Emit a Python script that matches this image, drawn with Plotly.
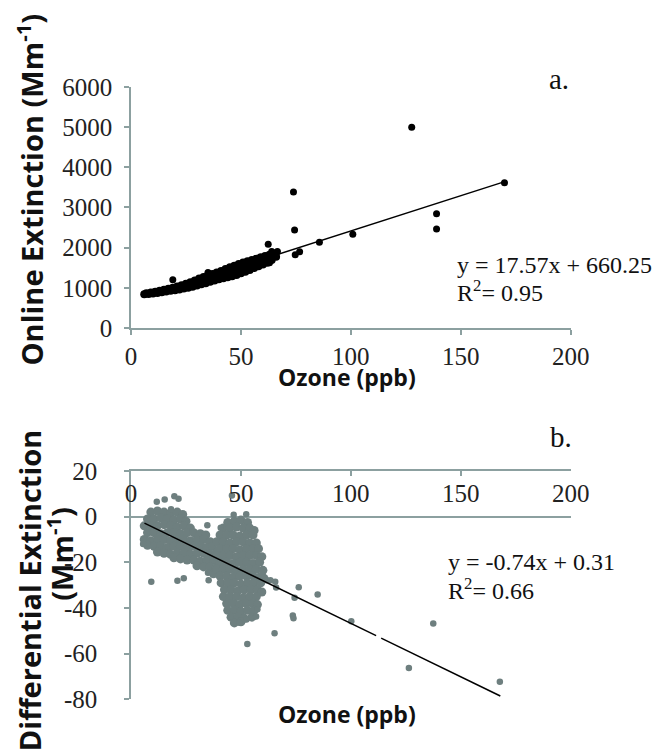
import plotly.graph_objects as go

# ---------------- Panel a: Online extinction vs ozone ----------------
online_x = [
    # lower edge of the dense band
    6, 8, 10, 12, 14, 16, 18, 20, 22, 24, 26, 28, 30, 32, 34, 36, 38, 40, 42, 44, 46, 48, 50, 52, 54,
    56, 58, 60, 62, 64, 66,
    # upper edge of the dense band
    7, 9, 11, 13, 15, 17, 19, 21, 23, 25, 27, 29, 31, 33, 35, 37, 39, 41, 43, 45, 47, 49, 51, 53, 55,
    57, 59, 61, 63, 65,
    # middle of the band
    28, 30, 32, 34, 36, 38, 40, 42, 44, 45, 46, 47, 48, 49, 50, 51, 52, 53, 54, 55, 56, 57, 58, 59, 60,
    62, 64]
online_y = [
    840, 845, 855, 870, 890, 905, 925, 940, 960, 980, 1000, 1025, 1055, 1090, 1115, 1150, 1180, 1215, 1240,
    1260, 1285, 1320, 1360, 1400, 1445, 1490, 1535, 1580, 1620, 1690, 1770,
    865, 880, 900, 925, 950, 975, 1000, 1030, 1065, 1100, 1140, 1180, 1230, 1270, 1310, 1340, 1380, 1420,
    1470, 1510, 1550, 1590, 1630, 1660, 1690, 1720, 1760, 1790, 1820, 1850,
    1100, 1140, 1170, 1200, 1240, 1280, 1310, 1350, 1380, 1430, 1400, 1460, 1440, 1500, 1470, 1530, 1510,
    1560, 1550, 1600, 1600, 1640, 1640, 1680, 1680, 1720, 1760]
online_out_x = [19, 35, 62.4, 63, 64, 66.6,
                73.9, 74.4, 74.7, 76.7, 85.7, 100.9, 127.7, 139, 139, 169.9]
online_out_y = [1200, 1380, 2080, 1620, 1900, 1900,
                3381, 2439, 1823, 1895, 2134, 2330, 4993, 2840, 2464, 3612]
trend_a_x = [6, 170]
trend_a_y = [766, 3640]

# ---------------- Panel b: Differential extinction vs ozone ----------------
diff_cloud_x = [
    9, 12, 15, 18, 21, 23.5,
    7.5, 10.5, 13.5, 16.5, 19.5, 22.5, 25,
    6, 9, 12, 15, 18, 21, 24, 27,
    7.5, 10.5, 13.5, 16.5, 19.5, 22.5, 25.5, 28.5, 31.5, 34,
    6, 9, 12, 15, 18, 21, 24, 27, 30, 33, 36,
    7.5, 10.5, 13.5, 16.5, 19.5, 22.5, 25.5, 28.5, 31.5, 34.5, 37,
    12, 15, 18, 21, 24, 27, 30, 33, 36, 38.5,
    19.5, 22.5, 25.5, 28.5, 31.5, 34.5, 37.5,
    30, 33, 36, 38.5,
    37.5,
    44, 47, 50, 53,
    42, 45, 48, 51, 54, 56,
    40.5, 43.5, 46.5, 49.5, 52.5, 55.5,
    39, 42, 45, 48, 51, 54, 57,
    40.5, 43.5, 46.5, 49.5, 52.5, 55.5, 58,
    39, 42, 45, 48, 51, 54, 57, 59.5,
    40.5, 43.5, 46.5, 49.5, 52.5, 55.5, 58.5,
    39, 42, 45, 48, 51, 54, 57, 60,
    40.5, 43.5, 46.5, 49.5, 52.5, 55.5, 58.5, 60.5,
    41, 44, 47, 50, 53, 56, 59,
    42.5, 45.5, 48.5, 51.5, 54.5, 57.5, 59.5,
    42, 45, 48, 51, 54, 57,
    43.5, 46.5, 49.5, 52.5, 55.5, 57.5,
    44, 47, 50, 53, 56,
    45.5, 48.5, 51.5, 55,
    47, 50]
diff_cloud_y = [
    2, 2.5, 2, 1.5, 2, 1,
    -1, -1, -0.5, -1, -1.5, -1, -2,
    -4, -4, -4, -3.5, -4, -4.5, -4, -5,
    -7, -7, -7.5, -7, -7, -7.5, -7, -7, -7.5, -8,
    -10, -10.5, -10, -10, -10.5, -10, -10, -10.5, -10, -10, -11,
    -12.5, -13, -13, -13.5, -13, -13, -13.5, -13, -13, -13.5, -13,
    -15.5, -16, -16.5, -16, -16, -16.5, -16, -16, -16.5, -16,
    -18, -18.5, -19, -19, -19.5, -19, -19,
    -21.5, -22, -22, -22.5,
    -25,
    -2.5, -2, -1.5, -2.5,
    -5, -5, -4.5, -5, -5, -6,
    -8, -8, -8, -8.5, -8, -8,
    -11, -11, -11.5, -11, -11, -11.5, -11.5,
    -14, -14, -14, -14.5, -14, -14, -14,
    -17, -17, -17, -17.5, -17, -17, -17, -17.5,
    -20, -20, -20.5, -20, -20, -20.5, -20,
    -23, -23, -23, -23.5, -23, -23, -23, -23.5,
    -26, -26, -26.5, -26, -26, -26, -26.5, -27,
    -29, -29, -29, -29.5, -29, -29, -29,
    -32, -32, -32.5, -32, -32, -32, -33,
    -35, -35, -35, -35.5, -35, -35,
    -38, -38, -38.5, -38, -38, -38.5,
    -41, -41, -41.5, -41, -41,
    -44, -44, -44.5, -44,
    -46.5, -46]
diff_out_x = [9.2, 21.1, 24, 35, 35.3, 34.7, 40.8, 46.7, 52.4, 45.9, 15.3, 11.7, 19.7, 21.6, 18.2,
              61.7, 63.4, 65.6, 66, 76.3, 84.9, 74.4, 73.6, 73.9, 65.3, 52.9, 56.9, 52.5, 49.3,
              100.2, 137.5, 126.4, 167.8, 5.5, 57.5]
diff_out_y = [-28.5, -28, -27, -24.5, -27.8, -3.8, -4.8, 0.8, 1.1, 9.3, 7.5, 6.5, 8.9, 7.9, 3.3,
              -27.8, -27.8, -28.5, -31, -30.9, -34.1, -35.5, -43.3, -44.5, -51, -55.7, -43.7, -45, -46.4,
              -45.8, -46.8, -66.2, -72.3, -12, -40.5]
trend_b_x = [6.1, 111.5, None, 113.8, 168.0]
trend_b_y = [-2.8, -52.1, None, -53.2, -78.5]

x_ticks = [0, 50, 100, 150, 200]
online_ticks = [0, 1000, 2000, 3000, 4000, 5000, 6000]
diff_ticks = [20, 0, -20, -40, -60, -80]
diff_tick_labels = ["20", "0", "-20", "-40", "-60", "-80"]

# ---------------- figure ----------------
W, H = 656, 754
AX = "rgb(140,160,160)"
SERIF = "Liberation Serif"
SANS = "Open Sans"
GRAY = "rgb(110,127,127)"

fig = go.Figure()
fig.add_trace(go.Scatter(x=online_x, y=online_y, mode="markers",
                         marker=dict(color="black", size=8), xaxis="x", yaxis="y", showlegend=False))
fig.add_trace(go.Scatter(x=online_out_x, y=online_out_y, mode="markers",
                         marker=dict(color="black", size=7), xaxis="x", yaxis="y", showlegend=False))
fig.add_trace(go.Scatter(x=trend_a_x, y=trend_a_y, mode="lines",
                         line=dict(color="black", width=1.5), xaxis="x", yaxis="y", showlegend=False))
fig.add_trace(go.Scatter(x=diff_cloud_x, y=diff_cloud_y, mode="markers",
                         marker=dict(color=GRAY, size=9), xaxis="x2", yaxis="y2", showlegend=False))
fig.add_trace(go.Scatter(x=diff_out_x, y=diff_out_y, mode="markers",
                         marker=dict(color=GRAY, size=6.5), xaxis="x2", yaxis="y2", showlegend=False))
fig.add_trace(go.Scatter(x=trend_b_x, y=trend_b_y, mode="lines", connectgaps=False,
                         line=dict(color="black", width=1.5), xaxis="x2", yaxis="y2", showlegend=False))

xdom = [130 / W, 587 / W]
TF = dict(family=SERIF, size=25, color="#222")


def axstyle(**kw):
    d = dict(showline=True, linecolor=AX, linewidth=1.5, tickcolor=AX, tickwidth=1.5,
             ticklen=5, showgrid=False, zeroline=False, tickfont=dict(TF))
    d.update(kw)
    return d


fig.update_layout(
    width=W, height=H, margin=dict(l=0, r=0, t=0, b=0),
    paper_bgcolor="white", plot_bgcolor="white",
    font=dict(family=SERIF, size=25, color="#222"),
    xaxis=axstyle(domain=xdom, range=[0, 200], tickvals=x_ticks, anchor="y", ticks="outside"),
    yaxis=axstyle(domain=[1 - 326.7 / H, 1 - 76.5 / H], range=[0, 6000], tickvals=online_ticks,
                  anchor="x", ticks="outside", ticklabelstandoff=7),
    xaxis2=axstyle(domain=xdom, range=[0, 200], tickvals=x_ticks, anchor="y2", side="top",
                   ticks="inside", showticklabels=False),
    xaxis3=axstyle(domain=xdom, range=[0, 200], tickvals=x_ticks, overlaying="x2", anchor="free",
                   position=1 - 480 / H, side="bottom", ticks="", showline=False),
    yaxis2=axstyle(domain=[1 - 711.9 / H, 1 - 475 / H], range=[-80, 20], tickvals=diff_ticks,
                   ticktext=diff_tick_labels, anchor="x2", ticks="outside", ticklabelstandoff=22,
                   zeroline=True, zerolinecolor=AX, zerolinewidth=1.5),
)
# invisible trace so that the label axis (x3) is drawn
fig.add_trace(go.Scatter(x=[None], y=[None], xaxis="x3", yaxis="y2", showlegend=False,
                         hoverinfo="skip"))


def px(xp, yp):
    return xp / W, 1 - yp / H


anns = []


def ann(text, xp, yp, size, family, xanchor="left", yanchor="middle", angle=0):
    x, y = px(xp, yp)
    anns.append(dict(text=text, x=x, y=y, xref="paper", yref="paper", showarrow=False,
                     xanchor=xanchor, yanchor=yanchor, textangle=angle,
                     font=dict(family=family, size=size, color="#111")))


ann("a.", 562, 68, 29, SERIF)
ann("b.", 563, 440, 29, SERIF)
ann("y = 17.57x + 660.25", 467, 261, 24, SERIF)
ann("R<sup>2</sup>= 0.95", 467, 288, 24, SERIF)
ann("y = -0.74x + 0.31", 457, 569, 24, SERIF)
ann("R<sup>2</sup>= 0.66", 457, 597, 24, SERIF)
ann("<b>Online Extinction (Mm<sup>-1</sup>)</b>", 25, 183, 29, SANS, "center", "middle", -90)
ann("<b>Ozone (ppb)</b>", 355, 378, 23, SANS, "center", "middle")
ann("<b>Ozone (ppb)</b>", 354, 727, 23, SANS, "center", "middle")
ann("<b>Differential Extinction</b>", 24, 431, 29, SANS, "center", "top", -90)
ann("<b>(Mm<sup>-1</sup>)</b>", 56, 561, 29, SANS, "center", "middle", -90)
fig.update_layout(annotations=anns)

fig.write_html("out.html")
